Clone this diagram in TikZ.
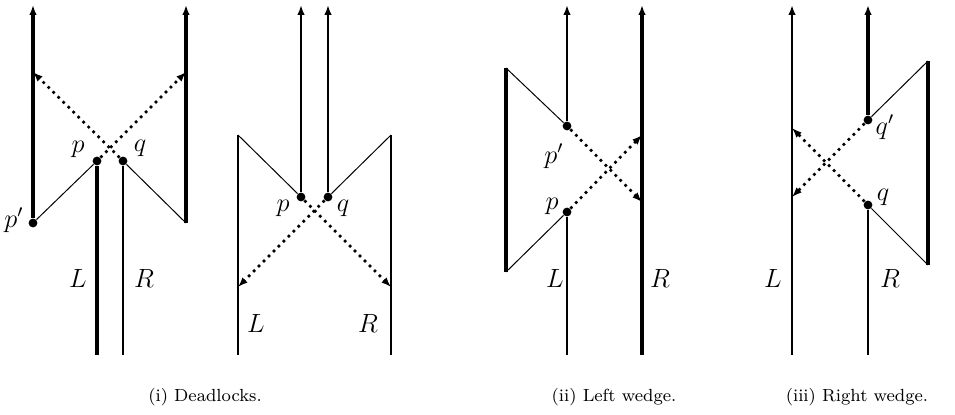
\documentclass[tikz,border=0pt]{standalone}
\usetikzlibrary{arrows.meta}
\begin{document}
\begin{tikzpicture}[
    x=0.16cm, y=0.16cm,
    >={Latex[length=4.5pt,width=3.4pt]},
    dotnode/.style={circle,fill,inner sep=0pt,minimum size=4pt},
    lab/.style={inner sep=0pt,font=\large},
    capt/.style={inner sep=0pt,font=\footnotesize},
    heavy/.style={line width=1.5pt},
    plain/.style={line width=0.9pt},
    slim/.style={line width=0.45pt},
    dotarr/.style={->,dotted,line width=1.2pt}
]
\useasboundingbox (0,0) rectangle (95.5,41.4);
% (i) deadlocks, first
\node[dotnode] (p1) at (9.7,25.3) {};
\node[dotnode] (q1) at (12.3,25.3) {};
\node[dotnode] (pp1) at (3.3,19.1) {};
\coordinate (ltop1) at (3.3,40.9);
\coordinate (rbot1) at (18.6,19.1);
\coordinate (rtop1) at (18.6,40.9);
\coordinate (pbot1) at (9.7,5.9);
\coordinate (qbot1) at (12.3,5.9);
\coordinate (lhit1) at (3.3,34.2);
\coordinate (rhit1) at (18.6,34.2);
\draw[heavy,->] (pp1) -- (ltop1);
\draw[heavy,->] (rbot1) -- (rtop1);
\draw[heavy] (p1) -- (pbot1);
\draw[plain] (q1) -- (qbot1);
\draw[slim] (pp1) -- (p1);
\draw[slim] (rbot1) -- (q1);
\draw[dotarr] (p1) -- (rhit1);
\draw[dotarr] (q1) -- (lhit1);
\node[lab] (lp1) at (7.8,26.5) {$p$};
\node[lab] (lq1) at (14.0,26.6) {$q$};
\node[lab] (lpp1) at (1.4,19.4) {$p'$};
\node[lab] (lL1) at (7.8,13.6) {$L$};
\node[lab] (lR1) at (14.4,13.6) {$R$};
% (i) deadlocks, second
\node[dotnode] (p2) at (30.1,21.7) {};
\node[dotnode] (q2) at (32.8,21.7) {};
\coordinate (ltop2) at (23.8,27.9);
\coordinate (lbot2) at (23.8,5.9);
\coordinate (rtop2) at (39.1,27.9);
\coordinate (rbot2) at (39.1,5.9);
\coordinate (pup2) at (30.1,40.9);
\coordinate (qup2) at (32.8,40.9);
\coordinate (lhit2) at (23.8,12.7);
\coordinate (rhit2) at (39.1,12.7);
\draw[plain] (ltop2) -- (lbot2);
\draw[plain] (rtop2) -- (rbot2);
\draw[plain,->] (p2) -- (pup2);
\draw[plain,->] (q2) -- (qup2);
\draw[slim] (ltop2) -- (p2);
\draw[slim] (rtop2) -- (q2);
\draw[dotarr] (q2) -- (lhit2);
\draw[dotarr] (p2) -- (rhit2);
\node[lab] (lp2) at (28.3,20.6) {$p$};
\node[lab] (lq2) at (34.3,20.6) {$q$};
\node[lab] (lL2) at (25.6,9.1) {$L$};
\node[lab] (lR2) at (36.8,9.1) {$R$};
% (ii) left wedge
\node[dotnode] (pp3) at (56.7,28.8) {};
\node[dotnode] (p3) at (56.7,20.2) {};
\coordinate (ltop3) at (50.6,34.6);
\coordinate (lbot3) at (50.6,14.2);
\coordinate (pup3) at (56.7,40.9);
\coordinate (pbot3) at (56.7,5.9);
\coordinate (rbot3) at (64.2,5.9);
\coordinate (rtop3) at (64.2,40.9);
\coordinate (rlow3) at (64.2,21.2);
\coordinate (rhigh3) at (64.2,27.9);
\draw[heavy] (ltop3) -- (lbot3);
\draw[plain,->] (pp3) -- (pup3);
\draw[plain] (p3) -- (pbot3);
\draw[heavy,->] (rbot3) -- (rtop3);
\draw[slim] (ltop3) -- (pp3);
\draw[slim] (lbot3) -- (p3);
\draw[dotarr] (pp3) -- (rlow3);
\draw[dotarr] (p3) -- (rhigh3);
\node[lab] (lpp3) at (55.4,25.8) {$p'$};
\node[lab] (lp3) at (55.2,20.8) {$p$};
\node[lab] (lL3) at (55.5,13.6) {$L$};
\node[lab] (lR3) at (66.0,13.6) {$R$};
% (iii) right wedge
\node[dotnode] (qq4) at (86.8,29.4) {};
\node[dotnode] (q4) at (86.8,20.9) {};
\coordinate (lbot4) at (79.2,5.9);
\coordinate (ltop4) at (79.2,40.9);
\coordinate (llow4) at (79.2,21.7);
\coordinate (lhigh4) at (79.2,28.6);
\coordinate (qup4) at (86.8,40.9);
\coordinate (qbot4) at (86.8,5.9);
\coordinate (rtop4) at (92.8,35.3);
\coordinate (rbot4) at (92.8,14.9);
\draw[plain,->] (lbot4) -- (ltop4);
\draw[heavy,->] (qq4) -- (qup4);
\draw[plain] (q4) -- (qbot4);
\draw[heavy] (rtop4) -- (rbot4);
\draw[slim] (rtop4) -- (qq4);
\draw[slim] (rbot4) -- (q4);
\draw[dotarr] (qq4) -- (llow4);
\draw[dotarr] (q4) -- (lhigh4);
\node[lab] (lqq4) at (88.5,28.7) {$q'$};
\node[lab] (lq4) at (88.3,21.7) {$q$};
\node[lab] (lL4) at (77.3,13.6) {$L$};
\node[lab] (lR4) at (89.0,13.6) {$R$};
% captions
\node[capt] (cap1) at (20.5,1.7) {(i) Deadlocks.};
\node[capt] (cap2) at (61.4,1.7) {(ii) Left wedge.};
\node[capt] (cap3) at (85.7,1.7) {(iii) Right wedge.};
\end{tikzpicture}
\end{document}
